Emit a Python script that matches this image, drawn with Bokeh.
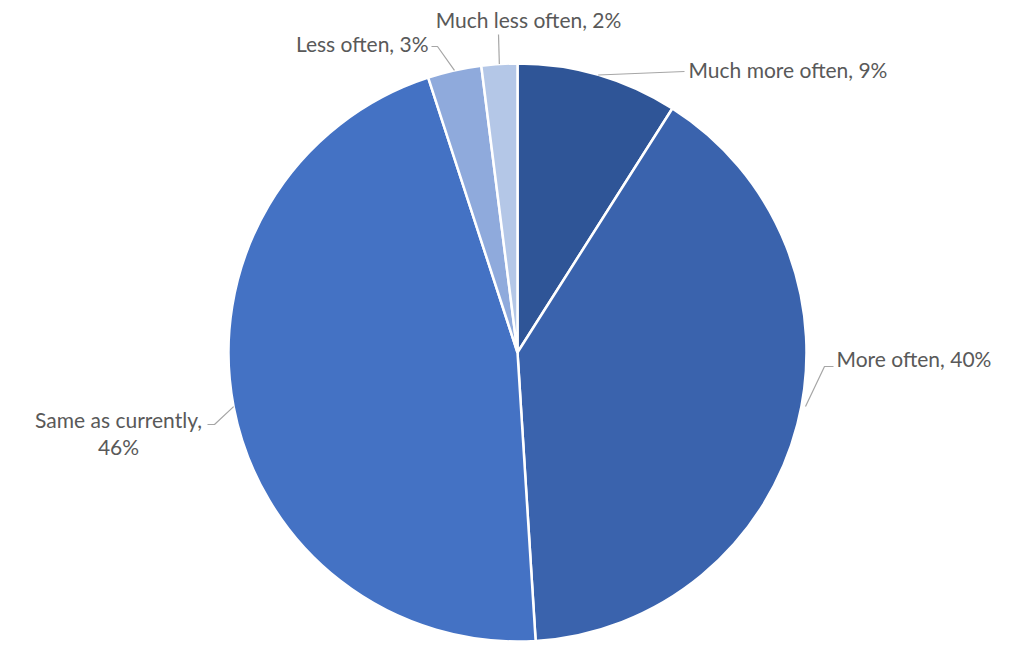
import math
from bokeh.plotting import figure
from bokeh.models import Range1d, ColumnDataSource
from bokeh.core.properties import value
from bokeh.embed import file_html
from bokeh.resources import INLINE

# ---- data ----
categories = ["Much more often", "More often", "Same as currently", "Less often", "Much less often"]
values = [9, 40, 46, 3, 2]
colors = ["#2F5597", "#3A63AD", "#4472C4", "#8FAADC", "#B4C7E7"]

# ---- layout (picture pixel space; data y = 658 - picture y) ----
W, H = 997, 642
CX, CY, R = 517, 352, 289


def Y(py):
    return 658 - py


p = figure(width=W, height=H, output_backend="svg", toolbar_location=None,
           x_range=Range1d(0, W), y_range=Range1d(658 - H, 658),
           min_border=0, outline_line_color=None)
p.axis.visible = False
p.grid.visible = False
p.background_fill_color = "white"
p.border_fill_color = "white"

total = float(sum(values))
starts, ends, mids = [], [], []
acc = 0.0
for v in values:
    a0 = acc / total
    acc += v
    a1 = acc / total
    starts.append(math.pi / 2 - a0 * 2 * math.pi)
    ends.append(math.pi / 2 - a1 * 2 * math.pi)
    mids.append((a0 + a1) / 2)

src = ColumnDataSource(dict(cat=categories, val=values, color=colors,
                            start=starts, end=ends))
p.wedge(x=CX, y=Y(CY), radius=R, start_angle="start", end_angle="end",
        direction="clock", fill_color="color", line_color="white",
        line_width=2.5, source=src)


def edge(frac):
    th = frac * 2 * math.pi
    return CX + R * math.sin(th), CY - R * math.cos(th)


# label layout: (text lines, x, y of first line, align, leader elbow points)
label_layout = [
    (["Much more often, 9%"], 688, 69, "left", [(684, 71)]),
    (["More often, 40%"], 836, 358, "left", [(833, 366), (824, 366)]),
    (["Same as currently,", "46%"], 118, 419, "center", [(207, 424), (214, 424)]),
    (["Less often, 3%"], 428, 43, "right", [(431, 46), (437, 46)]),
    (["Much less often, 2%"], 528, 19, "center", [(498, 34)]),
]

leader_edge_frac = [mids[0], None, mids[2], mids[3], mids[4]]
leader_edge_override = {1: (805, 406)}

font = value("Lato")
for i, (lines, lx, ly, align, elbow) in enumerate(label_layout):
    for j, t in enumerate(lines):
        p.text(x=[lx], y=[Y(ly + j * 27)], text=[t], text_font=font,
               text_font_size="21px", text_color="#595959",
               text_align=align, text_baseline="middle")
    if i in leader_edge_override:
        ex, ey = leader_edge_override[i]
    else:
        ex, ey = edge(leader_edge_frac[i])
    pts = elbow + [(ex, ey)]
    p.line(x=[q[0] for q in pts], y=[Y(q[1]) for q in pts],
           line_color="#A6A6A6", line_width=1.2)

open("out.html", "w").write(file_html(p, INLINE))
